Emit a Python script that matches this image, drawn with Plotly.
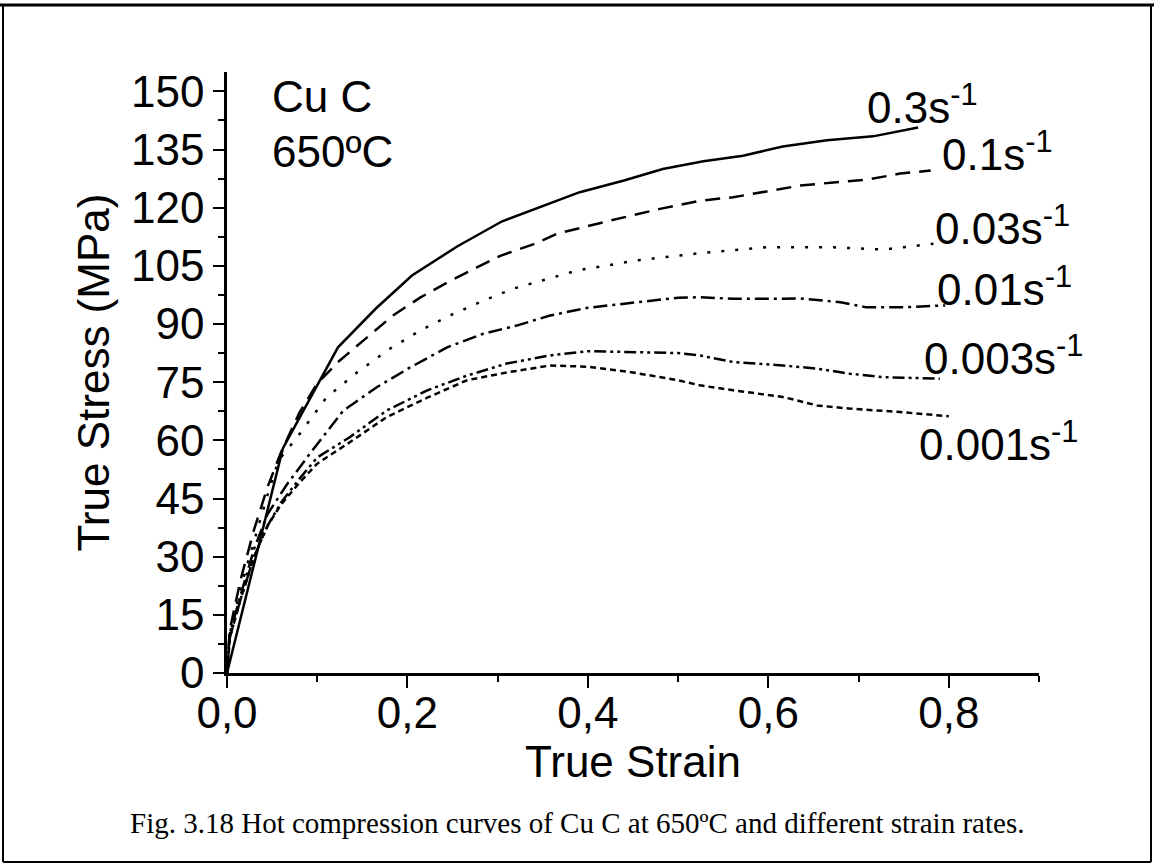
import plotly.graph_objects as go

W, H = 1154, 866

# ---------------- data ----------------
strain_03 = [0, 0.062, 0.123, 0.165, 0.205, 0.255, 0.305, 0.35, 0.391, 0.44, 0.483, 0.528, 0.572, 0.616, 0.665, 0.716, 0.766]
stress_03 = [0, 58, 84, 94, 102.5, 110, 116.5, 120.5, 124, 127, 130, 132, 133.4, 135.8, 137.4, 138.4, 140.7]

strain_01 = [0, 0.003, 0.015, 0.03, 0.045, 0.06, 0.08, 0.1, 0.125, 0.155, 0.184, 0.214, 0.244, 0.277, 0.303, 0.34, 0.366, 0.425, 0.48, 0.524, 0.561, 0.598, 0.635, 0.672, 0.709, 0.746, 0.78]
stress_01 = [0, 11, 24, 37, 48, 57, 67, 74.7, 80.6, 86.5, 92.2, 96.8, 100.7, 104.6, 107.6, 110.6, 113.3, 116.7, 119.7, 121.8, 122.7, 124.2, 125.7, 126.5, 127.2, 128.8, 129.6]

strain_003 = [0, 0.003, 0.015, 0.03, 0.045, 0.057, 0.081, 0.11, 0.144, 0.181, 0.214, 0.247, 0.284, 0.317, 0.35, 0.388, 0.454, 0.521, 0.598, 0.672, 0.727, 0.783]
stress_003 = [0, 10, 22, 34, 46, 54.8, 61.8, 71, 77.5, 83.7, 88.3, 92.2, 96, 99.1, 101.2, 103.8, 106.4, 108.2, 109.8, 109.8, 109.2, 110.7]

strain_001 = [0, 0.003, 0.015, 0.03, 0.045, 0.066, 0.09, 0.11, 0.129, 0.166, 0.203, 0.244, 0.284, 0.321, 0.358, 0.4, 0.45, 0.5, 0.524, 0.561, 0.605, 0.635, 0.68, 0.709, 0.746, 0.796]
stress_001 = [0, 10, 20, 32, 41, 48.5, 56, 62, 67.7, 73.7, 78.8, 84, 87.5, 89.6, 92.2, 94.2, 95.5, 96.8, 96.9, 96.5, 96.5, 96.6, 95.6, 94.3, 94.3, 94.8]

strain_0003 = [0, 0.003, 0.015, 0.03, 0.045, 0.06, 0.08, 0.1, 0.136, 0.177, 0.222, 0.266, 0.31, 0.358, 0.4, 0.45, 0.5, 0.524, 0.561, 0.616, 0.654, 0.69, 0.727, 0.79]
stress_0003 = [0, 9, 19, 30, 38, 44, 50, 55.6, 60.8, 67.7, 72.9, 76.7, 79.8, 81.9, 83, 82.8, 82.5, 81.9, 80.2, 79.3, 78.5, 77.2, 76.3, 75.9]

strain_0001 = [0, 0.003, 0.015, 0.03, 0.045, 0.06, 0.08, 0.1, 0.136, 0.177, 0.222, 0.266, 0.31, 0.358, 0.4, 0.45, 0.5, 0.524, 0.561, 0.616, 0.654, 0.69, 0.746, 0.8]
stress_0001 = [0, 9, 19, 30, 38, 43.5, 49, 54, 59.5, 66, 71, 75.5, 77.5, 79.3, 79, 77.5, 75.5, 74.2, 72.9, 71.2, 69, 68.2, 67.3, 66.2]

rate_labels = ["0.3s<sup>-1</sup>", "0.1s<sup>-1</sup>", "0.03s<sup>-1</sup>",
               "0.01s<sup>-1</sup>", "0.003s<sup>-1</sup>", "0.001s<sup>-1</sup>"]

x_tickvals = [0, 0.2, 0.4, 0.6, 0.8]
x_ticktext = ["0,0", "0,2", "0,4", "0,6", "0,8"]
y_tickvals = [0, 15, 30, 45, 60, 75, 90, 105, 120, 135, 150]

# ---------------- styles ----------------
series = [
    (strain_03, stress_03, "solid"),
    (strain_01, stress_01, "15px,9px"),
    (strain_003, stress_003, "3px,11px"),
    (strain_001, stress_001, "14px,5px,3px,5px"),
    (strain_0003, stress_0003, "12px,4px,3px,4px,3px,4px"),
    (strain_0001, stress_0001, "6px,4px"),
]

fig = go.Figure()
for xs, ys, dash in series:
    fig.add_trace(go.Scatter(x=xs, y=ys, mode="lines",
                             line=dict(color="black", width=2.5, dash=dash),
                             showlegend=False, hoverinfo="skip"))

FONT = "Liberation Sans, Arial, sans-serif"

# label positions (left x, center y) in data coords
label_pos = [(0.707, 146.5), (0.790, 134.4), (0.782, 115.3),
             (0.785, 99.6), (0.770, 81.8), (0.765, 59.8)]
for (lx, ly), txt in zip(label_pos, rate_labels):
    fig.add_annotation(x=lx, y=ly, xref="x", yref="y", text=txt, showarrow=False,
                       xanchor="left", yanchor="middle",
                       font=dict(family=FONT, size=44, color="black"))

fig.add_annotation(x=0.0477, y=148.8, xref="x", yref="y", text="Cu C", showarrow=False,
                   xanchor="left", yanchor="middle", font=dict(family=FONT, size=44, color="black"))
fig.add_annotation(x=0.0477, y=134.4, xref="x", yref="y", text="650ºC", showarrow=False,
                   xanchor="left", yanchor="middle", font=dict(family=FONT, size=44, color="black"))

# caption
fig.add_annotation(x=577 / W, y=1 - 823 / H, xref="paper", yref="paper",
                   text="Fig. 3.18 Hot compression curves of Cu C at 650ºC and different strain rates.",
                   showarrow=False, xanchor="center", yanchor="middle",
                   font=dict(family="Liberation Serif, Times New Roman, serif", size=29, color="black"))

# frame
fig.add_shape(type="line", xref="paper", yref="paper", x0=3 / W, x1=3 / W, y0=1 - 5 / H, y1=1 - 862 / H,
              line=dict(color="black", width=2))
fig.add_shape(type="line", xref="paper", yref="paper", x0=1151 / W, x1=1151 / W, y0=1 - 5 / H, y1=1 - 862 / H,
              line=dict(color="black", width=2))
fig.add_shape(type="line", xref="paper", yref="paper", x0=3 / W, x1=1151 / W, y0=1 - 862 / H, y1=1 - 862 / H,
              line=dict(color="black", width=2))
fig.add_shape(type="line", xref="paper", yref="paper", x0=0, x1=1, y0=1 - 5 / H, y1=1 - 5 / H,
              line=dict(color="black", width=3))

fig.update_layout(
    width=W, height=H,
    margin=dict(l=0, r=0, t=0, b=0, pad=0, autoexpand=False),
    paper_bgcolor="white", plot_bgcolor="white",
    font=dict(family=FONT, color="black"),
    showlegend=False,
    xaxis=dict(domain=[227 / W, 1039 / W], range=[0, 0.9], showgrid=False, zeroline=False,
               automargin=False,
               showline=True, linecolor="black", linewidth=2.5,
               ticks="outside", ticklen=12, tickwidth=2, tickcolor="black",
               tickvals=x_tickvals, ticktext=x_ticktext,
               tickfont=dict(family=FONT, size=44), ticklabelstandoff=-13,
               minor=dict(dtick=0.1, ticks="outside", ticklen=6, tickwidth=2, tickcolor="black"),
               title=dict(text="True Strain", font=dict(family=FONT, size=44), standoff=0)),
    yaxis=dict(domain=[1 - 673 / H, 1 - 72 / H], range=[0, 155], showgrid=False, zeroline=False,
               automargin=False,
               showline=True, linecolor="black", linewidth=2.5,
               ticks="outside", ticklen=11, tickwidth=2, tickcolor="black",
               tickvals=y_tickvals,
               tickfont=dict(family=FONT, size=44),
               minor=dict(tickvals=[7.5 + 15 * i for i in range(10)], ticks="outside", ticklen=6,
                          tickwidth=2, tickcolor="black"),
               title=dict(text="True Stress (MPa)", font=dict(family=FONT, size=44), standoff=8)),
)

fig.write_html(
    "out.html",
    config={"displayModeBar": False},
    post_script="document.body.style.margin='0px';document.body.style.overflow='hidden';"
                "document.documentElement.style.overflow='hidden';",
)
